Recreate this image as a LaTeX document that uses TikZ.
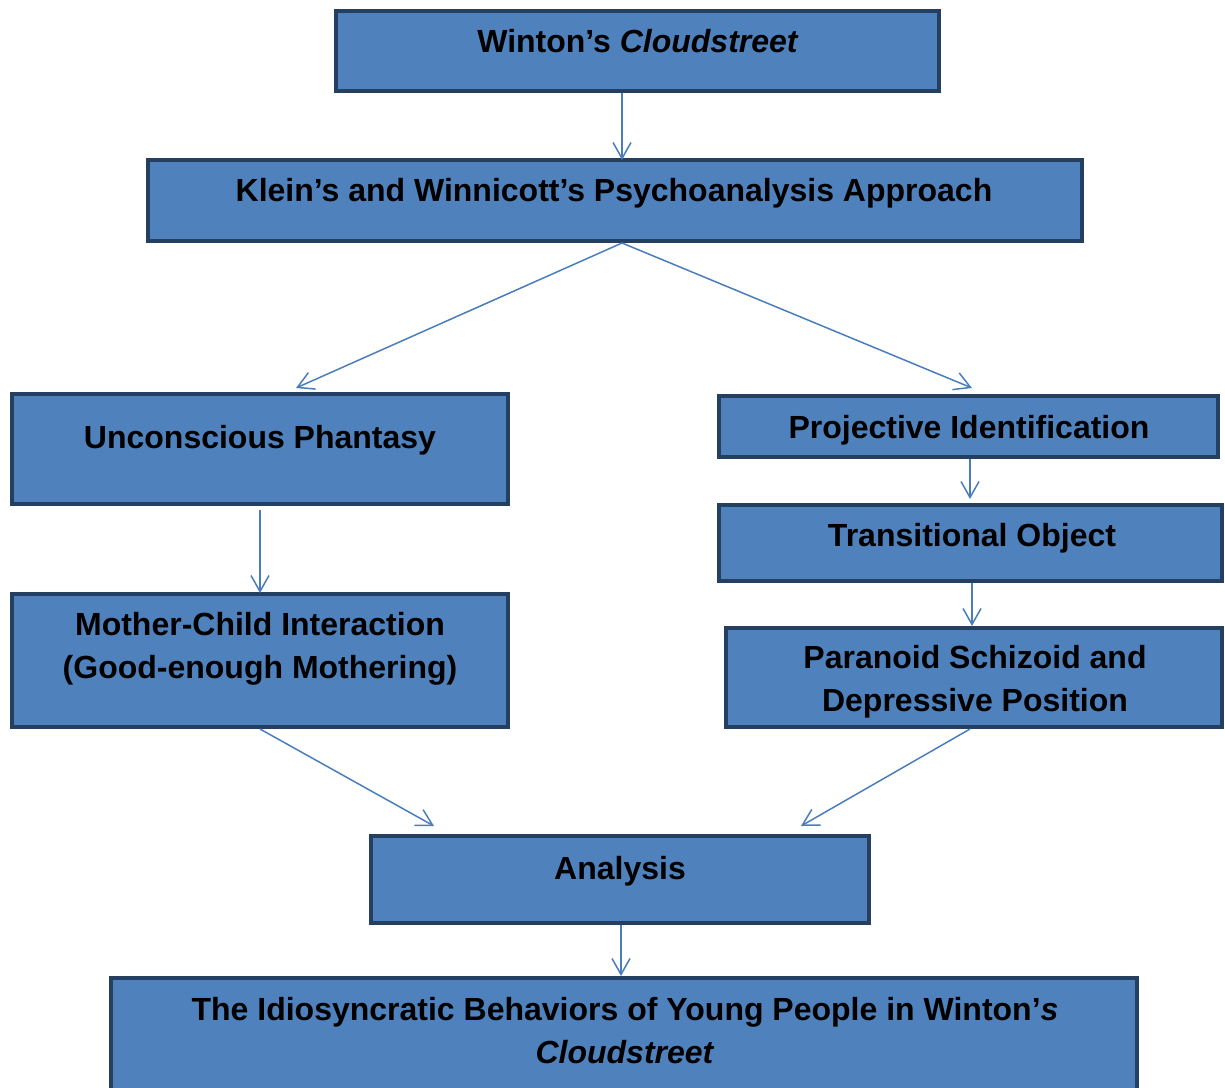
\documentclass[tikz,border=0pt]{standalone}
\usepackage{fontspec}
\setmainfont{Liberation Sans}
\usepackage{xcolor}
\usetikzlibrary{arrows.meta,positioning}

\definecolor{boxfill}{HTML}{4F81BD}
\definecolor{boxline}{HTML}{243F60}
\definecolor{arrline}{HTML}{4A7EBB}

\begin{document}
\begin{tikzpicture}[x=0.5pt,y=-0.5pt,
  >={Straight Barb[length=8pt,width=9pt,line width=0.75pt]},
  box/.style={rectangle,draw=boxline,fill=boxfill,line width=2pt,inner sep=0pt},
  txt/.style={anchor=base,align=center,font=\fontsize{16}{21.5}\selectfont\bfseries,inner sep=0pt},
  link/.style={->,draw=arrline,line width=0.75pt}]

\clip (0,0) rectangle (1225,1087);

% boxes
\node[box,minimum width=301.5pt,minimum height=40pt]   (win)   at (637.5,51)   {};
\node[box,minimum width=467pt,minimum height=40.5pt]   (klein) at (615,200.5)  {};
\node[box,minimum width=248pt,minimum height=55pt]     (unc)   at (260,449)    {};
\node[box,minimum width=249.5pt,minimum height=30.5pt] (proj)  at (968.5,426.5){};
\node[box,minimum width=251.5pt,minimum height=38pt]   (trans) at (970.5,543)  {};
\node[box,minimum width=248pt,minimum height=49.5pt]   (para)  at (974,677.5)  {};
\node[box,minimum width=248pt,minimum height=66.5pt]   (moth)  at (260,660.5)  {};
\node[box,minimum width=249pt,minimum height=43.5pt]   (anal)  at (620,879.5)  {};
\node[box,minimum width=513pt,minimum height=60pt]     (idio)  at (624,1038)   {};

% texts (multi-line: placed at last baseline)
\node[txt] (wint)   at (638,52)  {Winton’s \textit{Cloudstreet}};
\node[txt] (kleint) at (614,201) {Klein’s and Winnicott’s Psychoanalysis Approach};
\node[txt] (unct)   at (260,448) {Unconscious Phantasy};
\node[txt] (projt)  at (969,438) {Projective Identification};
\node[txt] (transt) at (972,546) {Transitional Object};
\node[txt] (parat)  at (975,711) {Paranoid Schizoid and\\Depressive Position};
\node[txt] (motht)  at (260,678) {Mother-Child Interaction\\(Good-enough Mothering)};
\node[txt] (analt)  at (620,879) {Analysis};
\node[txt] (idiot)  at (625,1063) {The Idiosyncratic Behaviors of Young People in Winton’\textit{s}\\\textit{Cloudstreet}};

% connectors
\draw[link] ([xshift=-7.75pt]win.south) -- ([xshift=3.5pt,yshift=-1pt]klein.north);
\draw[link] ([xshift=3.5pt]klein.south) -- ([xshift=18pt,yshift=2pt]unc.north);
\draw[link] ([xshift=3.5pt]klein.south) -- ([xshift=1.75pt,yshift=3pt]proj.north);
\draw[link] ([yshift=-2pt]unc.south) -- ([yshift=-0.5pt]moth.north);
\draw[link] ([xshift=0.75pt]proj.south) -- ([xshift=-0.25pt,yshift=2pt]trans.north);
\draw[link] ([xshift=0.75pt]trans.south) -- ([xshift=-1pt]para.north);
\draw[link] (moth.south) -- ([xshift=-93pt,yshift=4pt]anal.north);
\draw[link] ([xshift=-2pt]para.south) -- ([xshift=90.5pt,yshift=4pt]anal.north);
\draw[link] ([xshift=0.5pt]anal.south) -- ([xshift=-1.5pt]idio.north);

\end{tikzpicture}
\end{document}
